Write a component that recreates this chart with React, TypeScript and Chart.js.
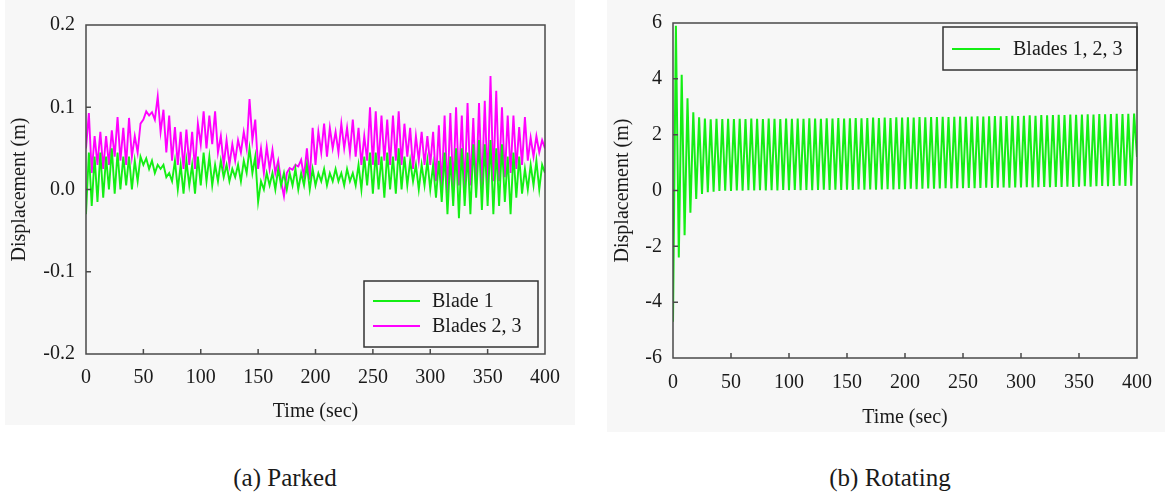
import React, { useEffect, useRef } from "react";
import { Chart, registerables } from "chart.js";

Chart.register(...registerables);

// ---------- data ----------
const DT = 2.5; // sample interval (sec)
const X_TICKS = [0, 50, 100, 150, 200, 250, 300, 350, 400];
const PARKED_Y_TICKS = [-0.2, -0.1, 0.0, 0.1, 0.2];
const ROTATING_Y_TICKS = [-6, -4, -2, 0, 2, 4, 6];

const BLADE1 = [
  -0.03, 0.045, -0.02, 0.04, -0.015, 0.045, -0.01, 0.04, 0.0, 0.05,
  -0.005, 0.045, 0.0, 0.04, 0.005, 0.04, 0.0, 0.035, 0.01, 0.04,
  0.03, 0.038, 0.025, 0.035, 0.02, 0.03, 0.025, 0.03, 0.015, 0.02,
  0.01, 0.035, 0.0, 0.03, -0.005, 0.035, 0.005, 0.03, -0.005, 0.04,
  0.005, 0.045, 0.01, 0.04, 0.005, 0.03, 0.01, 0.035, 0.015, 0.03,
  0.01, 0.025, 0.015, 0.03, 0.01, 0.035, 0.02, 0.05, 0.02, 0.04,
  -0.015, 0.01, 0.0, 0.02, 0.005, 0.02, 0.0, 0.025, 0.005, 0.02,
  0.0, 0.02, 0.005, 0.025, 0.0, 0.02, 0.005, 0.03, 0.0, 0.025,
  0.005, 0.02, 0.01, 0.025, 0.005, 0.02, 0.01, 0.025, 0.01, 0.02,
  0.005, 0.025, 0.01, 0.02, 0.005, 0.03, 0.0, 0.04, 0.005, 0.045,
  -0.005, 0.045, 0.0, 0.04, -0.01, 0.045, 0.0, 0.04, -0.005, 0.05,
  0.0, 0.04, 0.005, 0.035, 0.01, 0.03, 0.0, 0.03, 0.005, 0.035,
  0.0, 0.03, -0.01, 0.035, -0.015, 0.045, -0.03, 0.04, -0.02, 0.05,
  -0.035, 0.05, -0.02, 0.045, -0.03, 0.055, -0.01, 0.06, -0.025, 0.055,
  -0.02, 0.06, -0.03, 0.05, -0.02, 0.055, -0.015, 0.04, -0.03, 0.045,
  -0.01, 0.04, -0.005, 0.025, 0.0, 0.03, 0.005, 0.035, 0.0, 0.03,
  0.02,
];

const BLADES23 = [
  0.05, 0.093, 0.02, 0.065, 0.03, 0.07, 0.025, 0.065, 0.03, 0.072,
  0.04, 0.088, 0.035, 0.075, 0.03, 0.087, 0.04, 0.065, 0.045, 0.08,
  0.085, 0.095, 0.09, 0.094, 0.085, 0.113, 0.07, 0.097, 0.045, 0.09,
  0.035, 0.076, 0.03, 0.07, 0.025, 0.073, 0.03, 0.07, 0.025, 0.08,
  0.055, 0.095, 0.05, 0.09, 0.055, 0.095, 0.045, 0.065, 0.03, 0.06,
  0.03, 0.055, 0.035, 0.06, 0.045, 0.07, 0.05, 0.11, 0.06, 0.085,
  0.025, 0.05, 0.02, 0.052, 0.025, 0.048, 0.02, 0.035, 0.01, -0.008,
  0.02, 0.026, 0.024, 0.03, 0.028, 0.036, 0.015, 0.05, 0.012, 0.075,
  0.03, 0.07, 0.045, 0.08, 0.04, 0.075, 0.05, 0.07, 0.045, 0.08,
  0.05, 0.075, 0.045, 0.085, 0.04, 0.075, 0.03, 0.065, 0.035, 0.1,
  0.03, 0.095, 0.03, 0.09, 0.035, 0.085, 0.03, 0.09, 0.035, 0.095,
  0.03, 0.08, 0.04, 0.075, 0.025, 0.065, 0.035, 0.07, 0.03, 0.065,
  0.03, 0.07, 0.01, 0.078, 0.0, 0.09, -0.005, 0.093, 0.0, 0.1,
  0.005, 0.09, 0.0, 0.105, 0.005, 0.087, 0.0, 0.105, 0.0, 0.108,
  0.005, 0.138, 0.01, 0.12, 0.01, 0.1, 0.015, 0.09, 0.02, 0.09,
  0.025, 0.076, 0.03, 0.088, 0.035, 0.063, 0.04, 0.065, 0.045, 0.06,
  0.05,
];

const ROTATING = [
  -4.7, 5.9, -2.4, 4.15, -1.6, 3.3, -0.8, 2.8, -0.3, 2.62,
  -0.12, 2.58, -0.06, 2.55, -0.04, 2.57, -0.02, 2.56, -0.01, 2.57,
  -0.02, 2.56, 0.0, 2.57, -0.01, 2.56, 0.01, 2.58, 0.0, 2.57,
  0.01, 2.56, 0.0, 2.58, 0.01, 2.57, 0.0, 2.56, 0.02, 2.58,
  0.01, 2.57, 0.02, 2.58, 0.01, 2.57, 0.02, 2.59, 0.01, 2.58,
  0.02, 2.57, 0.03, 2.59, 0.02, 2.58, 0.03, 2.6, 0.02, 2.58,
  0.03, 2.59, 0.02, 2.6, 0.04, 2.59, 0.03, 2.6, 0.04, 2.61,
  0.03, 2.6, 0.04, 2.61, 0.05, 2.6, 0.04, 2.62, 0.05, 2.61,
  0.05, 2.62, 0.06, 2.61, 0.05, 2.63, 0.06, 2.62, 0.07, 2.63,
  0.06, 2.63, 0.07, 2.64, 0.08, 2.63, 0.07, 2.64, 0.08, 2.65,
  0.08, 2.64, 0.09, 2.65, 0.08, 2.66, 0.09, 2.65, 0.1, 2.66,
  0.09, 2.67, 0.1, 2.66, 0.11, 2.67, 0.1, 2.68, 0.11, 2.67,
  0.11, 2.68, 0.12, 2.69, 0.11, 2.68, 0.12, 2.7, 0.13, 2.69,
  0.12, 2.7, 0.13, 2.71, 0.13, 2.7, 0.14, 2.72, 0.13, 2.71,
  0.14, 2.72, 0.15, 2.73, 0.14, 2.72, 0.15, 2.74, 0.16, 2.73,
  0.15, 2.74, 0.16, 2.75, 0.17, 2.74, 0.16, 2.75, 0.17, 2.76,
  1.2,
];

// ---------- styling ----------
const FONT = '"Liberation Serif", "Times New Roman", serif';
const GREEN = "#14ee14";
const MAGENTA = "#ff00ff";
const FRAME = "#4a4a4a";
const TEXT = "#1a1a1a";

const toXY = (vals: number[]) => vals.map((v, i) => ({ x: i * DT, y: v }));

const framePlugin = {
  id: "frameTicks",
  afterDatasetsDraw(chart: any, _args: any, opts: any) {
    const { ctx, chartArea: a, scales } = chart;
    ctx.save();
    ctx.strokeStyle = FRAME;
    ctx.lineWidth = 1.5;
    ctx.strokeRect(a.left, a.top, a.right - a.left, a.bottom - a.top);
    ctx.beginPath();
    const sx = scales.x;
    sx.ticks.forEach((_t: any, i: number) => {
      const px = sx.getPixelForTick(i);
      if (px <= a.left + 1 || px >= a.right - 1) return;
      ctx.moveTo(px, a.bottom);
      ctx.lineTo(px, a.bottom - 5);
    });
    const sy = scales.y;
    sy.ticks.forEach((_t: any, i: number) => {
      const py = sy.getPixelForTick(i);
      if (py <= a.top + 1 || py >= a.bottom - 1) return;
      ctx.moveTo(a.left, py);
      ctx.lineTo(a.left + 5, py);
    });
    ctx.stroke();

    const lg = opts && opts.legend;
    if (lg) {
      ctx.strokeStyle = "#333";
      ctx.lineWidth = 1.5;
      ctx.strokeRect(lg.x, lg.y, lg.w, lg.h);
      ctx.font = `20px ${FONT}`;
      ctx.textBaseline = "middle";
      ctx.textAlign = "left";
      lg.items.forEach((it: any, i: number) => {
        const yy = lg.firstY + i * lg.gap;
        ctx.strokeStyle = it.color;
        ctx.lineWidth = 2;
        ctx.beginPath();
        ctx.moveTo(lg.lineX0, yy);
        ctx.lineTo(lg.lineX1, yy);
        ctx.stroke();
        ctx.fillStyle = TEXT;
        ctx.fillText(it.label, lg.textX, yy + 1);
      });
    }
    ctx.restore();
  },
};

function makeOptions(cfg: any): any {
  return {
    responsive: false,
    animation: false,
    events: [],
    layout: { padding: cfg.padding },
    plugins: {
      legend: { display: false },
      tooltip: { enabled: false },
      frameTicks: { legend: cfg.legend },
    },
    elements: { point: { radius: 0 }, line: { tension: 0 } },
    scales: {
      x: {
        type: "linear",
        min: 0,
        max: 400,
        afterFit: (s: any) => {
          s.height = cfg.xAxisHeight;
        },
        afterBuildTicks: (s: any) => {
          s.ticks = X_TICKS.map((v) => ({ value: v }));
        },
        grid: { display: false, drawTicks: false },
        border: { display: false },
        ticks: {
          padding: cfg.xTickPad,
          color: TEXT,
          font: { family: FONT, size: 20 },
          maxRotation: 0,
          autoSkip: false,
        },
        title: {
          display: true,
          text: "Time (sec)",
          color: TEXT,
          font: { family: FONT, size: 20 },
          padding: { top: 0, bottom: cfg.xTitlePad },
        },
      },
      y: {
        type: "linear",
        min: cfg.yMin,
        max: cfg.yMax,
        afterFit: (s: any) => {
          s.width = cfg.yAxisWidth;
        },
        afterBuildTicks: (s: any) => {
          s.ticks = cfg.yTicks.map((v: number) => ({ value: v }));
        },
        grid: { display: false, drawTicks: false },
        border: { display: false },
        ticks: {
          padding: 11,
          color: TEXT,
          font: { family: FONT, size: 20 },
          autoSkip: false,
          callback: cfg.yFormat,
        },
        title: {
          display: true,
          text: "Displacement (m)",
          color: TEXT,
          font: { family: FONT, size: 20 },
          padding: { top: cfg.yTitlePad, bottom: 0 },
        },
      },
    },
  };
}

function ParkedChart() {
  const ref = useRef<HTMLCanvasElement>(null);
  useEffect(() => {
    const chart = new Chart(ref.current!, {
      type: "line",
      data: {
        datasets: [
          { label: "Blade 1", data: toXY(BLADE1), borderColor: GREEN, borderWidth: 1.9 },
          { label: "Blades 2, 3", data: toXY(BLADES23), borderColor: MAGENTA, borderWidth: 1.9 },
        ],
      },
      options: makeOptions({
        padding: { left: 0, top: 25, right: 30, bottom: 0 },
        xAxisHeight: 76,
        yAxisWidth: 86,
        xTickPad: 12,
        xTitlePad: 6,
        yTitlePad: 8,
        yMin: -0.2,
        yMax: 0.2,
        yTicks: PARKED_Y_TICKS,
        yFormat: (v: any) => (Math.abs(v) < 1e-9 ? "0.0" : Number(v).toFixed(1)),
        legend: {
          x: 364, y: 281, w: 174, h: 66,
          lineX0: 373, lineX1: 420, textX: 432, firstY: 301, gap: 25,
          items: [
            { label: "Blade 1", color: GREEN },
            { label: "Blades 2, 3", color: MAGENTA },
          ],
        },
      }),
      plugins: [framePlugin],
    });
    return () => chart.destroy();
  }, []);
  return <canvas ref={ref} width={575} height={430} style={{ position: "absolute", left: 0, top: 0 }} />;
}

function RotatingChart() {
  const ref = useRef<HTMLCanvasElement>(null);
  useEffect(() => {
    const chart = new Chart(ref.current!, {
      type: "line",
      data: {
        datasets: [
          { label: "Blades 1, 2, 3", data: toXY(ROTATING), borderColor: GREEN, borderWidth: 2 },
        ],
      },
      options: makeOptions({
        padding: { left: 0, top: 20, right: 20, bottom: 0 },
        xAxisHeight: 77,
        yAxisWidth: 73,
        xTickPad: 13,
        xTitlePad: 5,
        yTitlePad: 11,
        yMin: -6,
        yMax: 6,
        yTicks: ROTATING_Y_TICKS,
        yFormat: (v: any) => String(v),
        legend: {
          x: 343, y: 27, w: 194, h: 43,
          lineX0: 352, lineX1: 400, textX: 413, firstY: 49, gap: 25,
          items: [{ label: "Blades 1, 2, 3", color: GREEN }],
        },
      }),
      plugins: [framePlugin],
    });
    return () => chart.destroy();
  }, []);
  return <canvas ref={ref} width={565} height={435} style={{ position: "absolute", left: 600, top: 0 }} />;
}

export default function App() {
  const caption: React.CSSProperties = {
    position: "absolute",
    top: 464,
    width: 300,
    textAlign: "center",
    fontFamily: FONT,
    fontSize: 25,
    lineHeight: "28px",
    color: TEXT,
  };
  return (
    <div style={{ position: "absolute", left: 0, top: 0, width: 1165, height: 493, background: "#fff", overflow: "hidden" }}>
      <div style={{ position: "absolute", left: 5, top: 0, width: 570, height: 425, background: "#f7f7f7" }} />
      <div style={{ position: "absolute", left: 607, top: 0, width: 558, height: 432, background: "#f7f7f7" }} />
      <ParkedChart />
      <RotatingChart />
      <div style={{ ...caption, left: 135 }}>(a) Parked</div>
      <div style={{ ...caption, left: 740 }}>(b) Rotating</div>
    </div>
  );
}
